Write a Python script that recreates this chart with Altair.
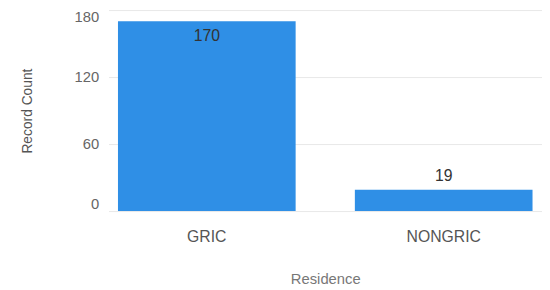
import altair as alt
import pandas as pd

categories = ["GRIC", "NONGRIC"]
counts = [170, 19]

df = pd.DataFrame({"Residence": categories, "Record Count": counts})

FONT = "Liberation Sans"
BAR = "#2F8FE6"

x = alt.X(
    "Residence:N",
    sort=categories,
    scale=alt.Scale(paddingInner=0.25, paddingOuter=0.04),
    axis=alt.Axis(
        title="Residence",
        labelAngle=0,
        labelFontSize=16,
        labelColor="#555555",
        labelPadding=18,
        titleFontSize=15,
        titleFontWeight="normal",
        titleColor="#777777",
        titlePadding=28,
        domain=False,
        ticks=False,
        grid=False,
    ),
)
y = alt.Y(
    "Record Count:Q",
    scale=alt.Scale(domain=[0, 180], nice=False),
    axis=alt.Axis(
        title="Record Count",
        values=[0, 60, 120, 180],
        labelFlush=True,
        labelFontSize=15,
        labelColor="#666666",
        labelPadding=10,
        titleFontSize=14,
        titleFontWeight="normal",
        titleColor="#555555",
        titlePadding=40,
        domain=False,
        ticks=False,
        gridColor="#e8e8e8",
    ),
)

bars = alt.Chart(df).mark_bar(color=BAR).encode(x=x, y=y)

inside = (
    alt.Chart(df)
    .transform_filter("datum['Record Count'] >= 60")
    .mark_text(dy=15, fontSize=16, color="#333333", font=FONT, baseline="middle")
    .encode(x=x, y=y, text="Record Count:Q")
)
outside = (
    alt.Chart(df)
    .transform_filter("datum['Record Count'] < 60")
    .mark_text(dy=-14, fontSize=16, color="#333333", font=FONT, baseline="middle")
    .encode(x=x, y=y, text="Record Count:Q")
)

chart = (
    alt.layer(bars, inside, outside)
    .properties(
        width=440,
        height=204,
        autosize=alt.AutoSizeParams(type="none"),
        padding={"left": 102, "top": 0, "right": 0, "bottom": 78},
    )
    .configure(font=FONT)
    .configure_view(stroke=None)
)

chart.save("out.html", embed_options={"renderer": "svg", "actions": False})
